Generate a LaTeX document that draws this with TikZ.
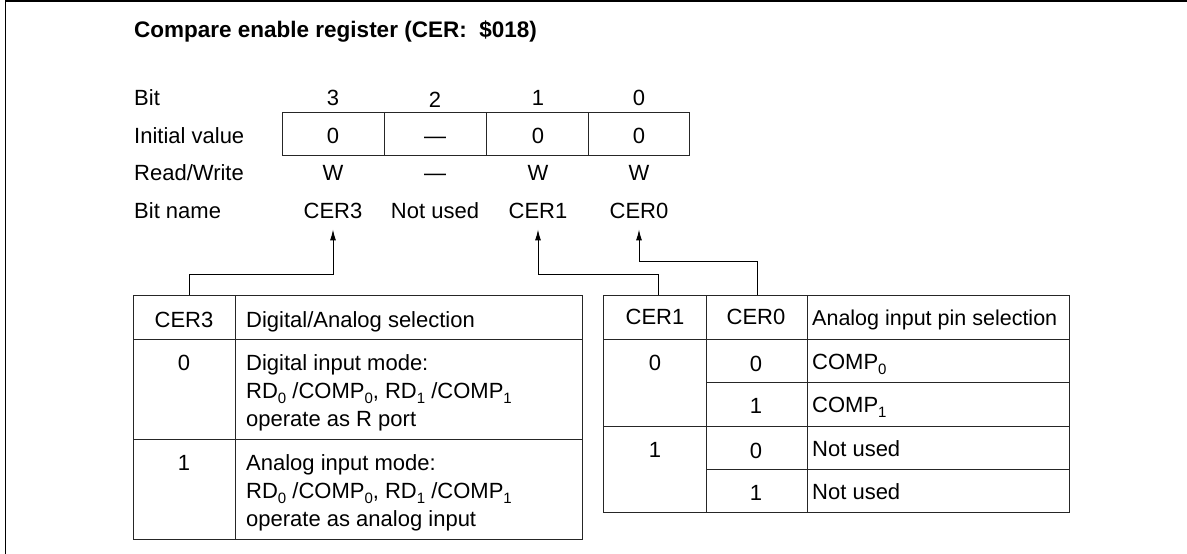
\documentclass[tikz,border=0pt]{standalone}
\usepackage{fontspec}
\setmainfont{Liberation Sans}
\usetikzlibrary{arrows.meta}
\newcommand{\mysub}[1]{\raisebox{-0.24em}{\fontsize{15}{15}\selectfont #1}}
\begin{document}
\begin{tikzpicture}[x=1pt,y=-1pt,
  every node/.style={inner sep=0pt, font=\fontsize{22}{26}\selectfont},
  lbl/.style={anchor=base west},
  ctr/.style={anchor=base},
  grid/.style={line width=1pt, draw=black!85},
  arr/.style={line width=1pt, -{Latex[length=11pt,width=6pt]}, shorten >=11pt},
  frame/.style={line width=1.5pt}]
\useasboundingbox (0,0) rectangle (1187,554);
% frame
\draw[frame] (1187,1) -- (5.5,1) -- (5.5,554);
% title
\node[lbl, font=\bfseries\fontsize{22.5}{26}\selectfont] (title) at (134,37) {Compare enable register (CER:\ \ \$018)};
% row labels
\node[lbl] (lbit) at (134,105) {Bit};
\node[lbl] (linit) at (134,143) {Initial value};
\node[lbl] (lrw) at (134,180) {Read/Write};
\node[lbl] (lname) at (134,218) {Bit name};
% bit numbers
\node[ctr] (b3) at (333,105) {3};
\node[ctr] (b2) at (435,107) {2};
\node[ctr] (b1) at (538,105) {1};
\node[ctr] (b0) at (639,105) {0};
% register box
\draw[grid] (282,112) rectangle (689,155);
\draw[grid] (384,112) -- (384,155) (486,112) -- (486,155) (588,112) -- (588,155);
\node[ctr] (i3) at (333,143) {0};
\node[ctr] (i2) at (435,143) {---};
\node[ctr] (i1) at (538,143) {0};
\node[ctr] (i0) at (639,143) {0};
% read/write
\node[ctr] (w3) at (333,180) {W};
\node[ctr] (w2) at (435,180) {---};
\node[ctr] (w1) at (538,180) {W};
\node[ctr] (w0) at (639,180) {W};
% bit names
\node[ctr] (n3) at (333,218) {CER3};
\node[ctr] (n2) at (435,218) {Not used};
\node[ctr] (n1) at (538,218) {CER1};
\node[ctr] (n0) at (639,218) {CER0};
% left table
\draw[grid] (133,295) rectangle (582,539);
\draw[grid] (235,295) -- (235,539) (133,339) -- (582,339) (133,439) -- (582,439);
\node[ctr] (lh1) at (184,327) {CER3};
\node[lbl] (lh2) at (246,327) {Digital/Analog selection};
\node[ctr] (lv0) at (184,370) {0};
\node[lbl] (ld0a) at (246,370) {Digital input mode:};
\node[lbl] (ld0b) at (246,398) {RD\mysub{0} /COMP\mysub{0}, RD\mysub{1} /COMP\mysub{1}};
\node[lbl] (ld0c) at (246,426) {operate as R port};
\node[ctr] (lv1) at (184,470) {1};
\node[lbl] (ld1a) at (246,470) {Analog input mode:};
\node[lbl] (ld1b) at (246,498) {RD\mysub{0} /COMP\mysub{0}, RD\mysub{1} /COMP\mysub{1}};
\node[lbl] (ld1c) at (246,526) {operate as analog input};
% right table
\draw[grid] (603,295) rectangle (1069,512);
\draw[grid] (706,295) -- (706,512) (807,295) -- (807,512)
  (603,339) -- (1069,339) (706,382) -- (1069,382)
  (603,426) -- (1069,426) (706,469) -- (1069,469);
\node[ctr] (rh1) at (655,324) {CER1};
\node[ctr] (rh0) at (756,324) {CER0};
\node[lbl, font=\fontsize{21.5}{26}\selectfont] (rh2) at (812,325) {Analog input pin selection};
\node[ctr] (r1a) at (655,370) {0};
\node[ctr] (r0a) at (756,371) {0};
\node[lbl] (rsa) at (812,369) {COMP\mysub{0}};
\node[ctr] (r0b) at (756,413) {1};
\node[lbl] (rsb) at (812,412) {COMP\mysub{1}};
\node[ctr] (r1c) at (655,457) {1};
\node[ctr] (r0c) at (756,458) {0};
\node[lbl] (rsc) at (812,456) {Not used};
\node[ctr] (r0d) at (756,500) {1};
\node[lbl] (rsd) at (812,499) {Not used};
% connectors
\coordinate (t1a) at (189,295);
\coordinate (e3) at (333,274);
\coordinate (t2a) at (658,295);
\coordinate (e1) at (538,274);
\coordinate (t2b) at (757,295);
\coordinate (e0) at (639,261);
\draw[arr] (t1a) |- (e3) -- (n3.south);
\draw[arr] (t2a) |- (e1) -- (n1.south);
\draw[arr] (t2b) |- (e0) -- (n0.south);
\end{tikzpicture}
\end{document}
